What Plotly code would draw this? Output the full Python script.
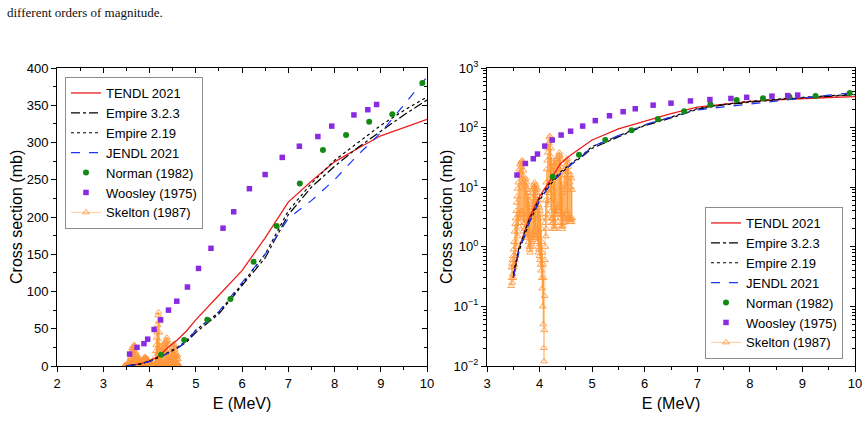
import plotly.graph_objects as go

# ---------------- data ----------------
E_model = [3.5, 3.6, 3.8, 4.0, 4.2, 4.4, 4.6, 4.8, 5.0, 5.5, 6.0, 6.5, 7.0, 7.5, 8.0, 8.5, 9.0, 9.5, 10.0]
tendl = [0.3, 0.9, 3, 7, 13, 25, 35, 47, 62, 95, 128, 172, 220, 248, 274, 292, 309, 320, 331]
empire323 = [0.3, 0.8, 2.5, 6, 11, 17, 24, 32, 45, 70, 108, 145, 203, 240, 268, 293, 315, 337, 357]
empire219 = [0.35, 0.9, 2.8, 6.5, 12, 18, 25, 34, 48, 72, 110, 150, 208, 245, 276, 300, 323, 343, 361]
jendl = [0.3, 0.8, 2.5, 6, 11, 17, 24, 33, 48, 73, 112, 150, 198, 222, 250, 283, 313, 350, 388]

E_norman = [4.25, 4.75, 5.25, 5.75, 6.25, 6.75, 7.25, 7.75, 8.25, 8.75, 9.25, 9.9]
norman = [15, 35, 62, 90, 140, 188, 245, 290, 310, 328, 338, 380]

E_woosley = [3.57, 3.73, 3.88, 3.96, 4.10, 4.24, 4.41, 4.59, 4.82, 5.06, 5.33, 5.59, 5.82,
             6.16, 6.50, 6.87, 7.24, 7.64, 7.94, 8.42, 8.72, 8.91]
woosley = [16, 25, 30, 36, 49, 62, 75, 87, 106, 131, 158, 185, 207, 238, 257, 280, 295, 308,
           322, 337, 344, 351]

E_skelton = [
    3.460, 3.465, 3.470, 3.475, 3.480, 3.485, 3.490, 3.495, 3.500, 3.505,
    3.510, 3.515, 3.520, 3.525, 3.530, 3.535, 3.540, 3.545, 3.550, 3.555,
    3.560, 3.565, 3.570, 3.575, 3.580, 3.585, 3.590, 3.595, 3.600, 3.605,
    3.610, 3.615, 3.620, 3.625, 3.630, 3.635, 3.640, 3.645, 3.650, 3.655,
    3.660, 3.665, 3.670, 3.675, 3.680, 3.685, 3.690, 3.695, 3.700, 3.705,
    3.710, 3.715, 3.720, 3.725, 3.730, 3.735, 3.740, 3.745, 3.750, 3.755,
    3.760, 3.765, 3.770, 3.775, 3.780, 3.785, 3.790, 3.795, 3.800, 3.805,
    3.810, 3.815, 3.820, 3.825, 3.830, 3.835, 3.840, 3.845, 3.850, 3.855,
    3.860, 3.865, 3.870, 3.875, 3.880, 3.885, 3.890, 3.895, 3.900, 3.905,
    3.910, 3.915, 3.920, 3.925, 3.930, 3.935, 3.940, 3.945, 3.950, 3.955,
    3.960, 3.965, 3.970, 3.975, 3.980, 3.985, 3.990, 3.995, 4.000, 4.005,
    4.010, 4.015, 4.020, 4.025, 4.030, 4.035, 4.040, 4.045, 4.050, 4.055,
    4.060, 4.065, 4.070, 4.075, 4.080, 4.085, 4.090, 4.095, 4.100, 4.105,
    4.110, 4.115, 4.120, 4.125, 4.130, 4.135, 4.140, 4.145, 4.150, 4.155,
    4.160, 4.165, 4.170, 4.175, 4.180, 4.185, 4.190, 4.195, 4.200, 4.205,
    4.210, 4.215, 4.220, 4.225, 4.230, 4.235, 4.240, 4.245, 4.250, 4.255,
    4.260, 4.265, 4.270, 4.275, 4.280, 4.285, 4.290, 4.295, 4.300, 4.305,
    4.310, 4.315, 4.320, 4.325, 4.330, 4.335, 4.340, 4.345, 4.350, 4.355,
    4.360, 4.365, 4.370, 4.375, 4.380, 4.385, 4.390, 4.395, 4.400, 4.405,
    4.410, 4.415, 4.420, 4.425, 4.430, 4.435, 4.440, 4.445, 4.450, 4.455,
    4.460, 4.465, 4.470, 4.475, 4.480, 4.485, 4.490, 4.495, 4.500, 4.505,
    4.510, 4.515, 4.520, 4.525, 4.530, 4.535, 4.540, 4.545, 4.550, 4.555,
    4.560, 4.565, 4.570, 4.575, 4.580, 4.585, 4.590, 4.595, 4.600, 4.605,
    4.610, 4.615, 4.620,
]
skelton = [
    0.22, 0.45, 0.3, 0.52, 0.25, 0.6, 0.35, 0.7, 0.3, 0.9,
    0.45, 1.2, 0.5, 1.8, 0.6, 2.4, 0.7, 3.0, 0.8, 4.0,
    1.0, 5.5, 1.2, 7.0, 1.5, 9.5, 1.8, 12, 2.2, 16,
    2.5, 20, 3.0, 24, 3.5, 18, 3.0, 26, 4.0, 22,
    3.5, 28, 4.0, 25, 3.0, 27, 3.5, 19, 2.5, 15,
    2.0, 13, 2.5, 11, 2.0, 14, 1.8, 10, 1.6, 12,
    1.5, 9, 1.4, 7, 1.6, 8, 1.2, 6, 1.0, 5,
    0.9, 4.5, 0.8, 3.5, 1.0, 4, 1.1, 5, 1.2, 6.5,
    1.3, 8, 1.5, 9.5, 1.6, 11, 1.4, 10, 1.8, 12,
    1.6, 10, 2.0, 11, 1.5, 9, 1.8, 8, 1.4, 9.5,
    1.2, 7, 1.0, 6, 0.8, 5, 0.9, 4.5, 0.7, 4,
    0.6, 3.5, 0.5, 3.0, 0.4, 2.0, 0.3, 1.2, 0.2, 0.8,
    0.1, 0.5, 0.05, 0.3, 0.02, 0.012, 0.04, 0.15, 0.6, 2.5,
    1.0, 6, 1.5, 12, 2.0, 20, 3.0, 28, 3.5, 38,
    5.0, 45, 6.0, 55, 8.0, 68, 10, 72, 8.0, 60,
    6.0, 45, 4.0, 32, 3.0, 25, 2.5, 20, 3.0, 26,
    2.5, 22, 2.0, 18, 2.2, 24, 2.0, 16, 2.5, 20,
    3.0, 25, 3.5, 28, 4.0, 30, 3.5, 26, 4.0, 32,
    4.5, 35, 5.0, 38, 4.0, 34, 3.5, 30, 3.0, 22,
    2.5, 15, 2.2, 10, 2.0, 8, 2.2, 11, 2.5, 9,
    2.6, 12, 3.0, 16, 3.2, 20, 3.5, 18, 3.0, 24,
    3.5, 28, 4.0, 30, 3.5, 25, 3.0, 22, 3.2, 18,
    2.8, 15, 3.0, 12, 2.6, 16, 2.8, 10, 3.0, 14,
    2.6, 9, 3.0,
]

# ---------------- styling ----------------
FONT = "Liberation Sans, Arial, sans-serif"
W, H = 868, 438


def fx(px):
    return px / W


def fy(py):
    return 1 - py / H


L_dom = [fx(57), fx(427)]
R_dom = [fx(487), fx(855)]
Y_dom = [fy(366), fy(68)]

fig = go.Figure()


def add_set(xa, ya, legend):
    # Skelton first (underneath)
    fig.add_trace(go.Scatter(
        x=E_skelton, y=skelton, mode="lines+markers", name="Skelton (1987)",
        line=dict(color="rgba(255,140,20,0.45)", width=1),
        marker=dict(symbol="triangle-up-open", size=6, color="rgba(255,150,60,0.85)",
                    line=dict(width=1)),
        xaxis=xa, yaxis=ya, legend=legend, legendrank=7))
    fig.add_trace(go.Scatter(
        x=E_model, y=tendl, mode="lines", name="TENDL 2021",
        line=dict(color="#ee1c1c", width=1.3), xaxis=xa, yaxis=ya, legend=legend,
        legendrank=1))
    fig.add_trace(go.Scatter(
        x=E_model, y=empire323, mode="lines", name="Empire 3.2.3",
        line=dict(color="black", width=1.2, dash="dashdot"), xaxis=xa, yaxis=ya,
        legend=legend, legendrank=2))
    fig.add_trace(go.Scatter(
        x=E_model, y=empire219, mode="lines", name="Empire 2.19",
        line=dict(color="black", width=1.2, dash="dot"), xaxis=xa, yaxis=ya,
        legend=legend, legendrank=3))
    fig.add_trace(go.Scatter(
        x=E_model, y=jendl, mode="lines", name="JENDL 2021",
        line=dict(color="#1d35f5", width=1.2, dash="dash"), xaxis=xa, yaxis=ya,
        legend=legend, legendrank=4))
    fig.add_trace(go.Scatter(
        x=E_norman, y=norman, mode="markers", name="Norman (1982)",
        marker=dict(symbol="circle", size=6, color="#138a13"), xaxis=xa, yaxis=ya,
        legend=legend, legendrank=5))
    fig.add_trace(go.Scatter(
        x=E_woosley, y=woosley, mode="markers", name="Woosley (1975)",
        marker=dict(symbol="square", size=5.5, color="#8a2be2"), xaxis=xa, yaxis=ya,
        legend=legend, legendrank=6))


add_set("x", "y", "legend")
add_set("x2", "y2", "legend2")

# dummy traces for inward mirror tick axes
for xa, ya in [("x3", "y"), ("x", "y3"), ("x4", "y2"), ("x2", "y4")]:
    fig.add_trace(go.Scatter(x=[None], y=[None], xaxis=xa, yaxis=ya, showlegend=False,
                             hoverinfo="skip"))

axis_common = dict(showline=True, linecolor="black", linewidth=1, mirror=True,
                   showgrid=False, zeroline=False, ticks="outside", ticklen=5,
                   tickcolor="black", automargin=False,
                   tickfont=dict(family=FONT, size=13, color="black"))
mirror_common = dict(showline=False, showgrid=False, zeroline=False, ticks="inside",
                     ticklen=5, tickcolor="black", showticklabels=False, automargin=False)

log_vals = [-2, -1, 0, 1, 2, 3]
log_text = ["10<sup>−2</sup>", "10<sup>−1</sup>", "10<sup>0</sup>", "10<sup>1</sup>",
            "10<sup>2</sup>", "10<sup>3</sup>"]

legend_common = dict(xanchor="left", bgcolor="white", bordercolor="#8c8c8c", borderwidth=1,
                     font=dict(family=FONT, size=13, color="black"), tracegroupgap=0)

fig.update_layout(
    width=W, height=H, margin=dict(l=0, r=0, t=0, b=0, autoexpand=False),
    paper_bgcolor="white", plot_bgcolor="white",
    font=dict(family=FONT, color="black"),
    xaxis=dict(domain=L_dom, anchor="y", range=[2, 10], dtick=1,
               minor=dict(dtick=0.5, ticks="outside", ticklen=3, tickcolor="black"),
               title=dict(text="E (MeV)", font=dict(size=16), standoff=8), **axis_common),
    yaxis=dict(domain=Y_dom, anchor="x", range=[0, 400], dtick=50,
               minor=dict(dtick=25, ticks="outside", ticklen=3, tickcolor="black"),
               **axis_common),
    xaxis2=dict(domain=R_dom, anchor="y2", range=[3, 10], dtick=1,
                minor=dict(dtick=0.5, ticks="outside", ticklen=3, tickcolor="black"),
                title=dict(text="E (MeV)", font=dict(size=16), standoff=8), **axis_common),
    yaxis2=dict(domain=Y_dom, anchor="x2", type="log", range=[-2, 3],
                tickvals=[10 ** v for v in log_vals], ticktext=log_text,
                minor=dict(dtick="D1", ticks="outside", ticklen=3, tickcolor="black"),
                **axis_common),
    xaxis3=dict(overlaying="x", anchor="y", side="top", range=[2, 10], dtick=1,
                minor=dict(dtick=0.5, ticks="inside", ticklen=3, tickcolor="black"),
                **mirror_common),
    yaxis3=dict(overlaying="y", anchor="x", side="right", range=[0, 400], dtick=50,
                minor=dict(dtick=25, ticks="inside", ticklen=3, tickcolor="black"),
                **mirror_common),
    xaxis4=dict(overlaying="x2", anchor="y2", side="top", range=[3, 10], dtick=1,
                minor=dict(dtick=0.5, ticks="inside", ticklen=3, tickcolor="black"),
                **mirror_common),
    yaxis4=dict(overlaying="y2", anchor="x2", side="right", type="log", range=[-2, 3],
                tickvals=[10 ** v for v in log_vals],
                minor=dict(dtick="D1", ticks="inside", ticklen=3, tickcolor="black"),
                **mirror_common),
    legend=dict(x=fx(65), y=fy(77), yanchor="top", **legend_common),
    legend2=dict(x=fx(705), y=fy(359), yanchor="bottom", **legend_common),
    showlegend=True,
)

# y-axis titles placed where the reference draws them
for xpix in (16, 446):
    fig.add_annotation(text="Cross section (mb)", xref="paper", yref="paper",
                       x=fx(xpix), y=fy(217), xanchor="center", yanchor="middle",
                       textangle=-90, showarrow=False,
                       font=dict(family=FONT, size=16, color="black"))

fig.add_annotation(text="different orders of magnitude.", xref="paper", yref="paper",
                   x=fx(5), y=fy(12), xanchor="left", yanchor="middle", showarrow=False,
                   font=dict(family="Liberation Serif, Times New Roman, serif", size=13,
                             color="#111"))

fig.write_html("out.html")
